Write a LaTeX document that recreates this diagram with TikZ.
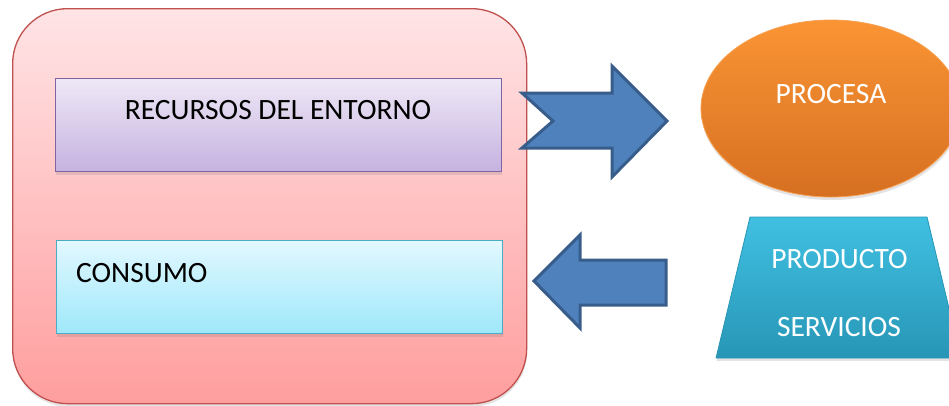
\documentclass[tikz,border=0pt]{standalone}
\usepackage{fontspec}
\setmainfont{Carlito}
\usetikzlibrary{shapes.geometric,shadows}

\definecolor{bigtop}{RGB}{255,228,230}
\definecolor{bigbot}{RGB}{255,158,158}
\definecolor{bigline}{RGB}{192,80,77}
\definecolor{purtop}{RGB}{238,232,246}
\definecolor{purbot}{RGB}{198,178,224}
\definecolor{purline}{RGB}{128,100,162}
\definecolor{cyatop}{RGB}{226,248,255}
\definecolor{cyabot}{RGB}{158,232,250}
\definecolor{cyaline}{RGB}{75,172,198}
\definecolor{arrfill}{RGB}{79,129,189}
\definecolor{arrline}{RGB}{56,93,138}
\definecolor{orgtop}{RGB}{250,148,52}
\definecolor{orgbot}{RGB}{214,112,34}
\definecolor{orgline}{RGB}{247,160,80}
\definecolor{traptop}{RGB}{64,192,226}
\definecolor{trapbot}{RGB}{40,150,182}

\begin{document}
\begin{tikzpicture}
  [x = 1pt, y = -1pt,
   lbl/.style = {font=\fontsize{29.5}{34}\selectfont, inner sep=0pt},
   softshadow/.style = {drop shadow={shadow xshift=.5pt, shadow yshift=-3pt, opacity=.22}},
   box/.style = {rectangle, line width=1.3pt, anchor=north west, softshadow},
   blockarrow/.style = {draw=arrline, fill=arrfill, line width=3pt, line join=miter}]
    \useasboundingbox (0,0) rectangle (949,405);

    % left frame
    \node (entorno) [box, draw=bigline, rounded corners=55pt, top color=bigtop, bottom color=bigbot,
      minimum width=514, minimum height=395] at (12,8) {};
    \node (recbox) [box, draw=purline, top color=purtop, bottom color=purbot,
      minimum width=446, minimum height=93] at (55,78) {};
    \node (conbox) [box, draw=cyaline, top color=cyatop, bottom color=cyabot,
      minimum width=446, minimum height=93] at (56,240) {};
    \node (rectxt) [lbl, anchor=base] at (278,119) {RECURSOS DEL ENTORNO};
    \node (contxt) [lbl, anchor=base west] at (76,282) {CONSUMO};

    % arrows
    \draw[blockarrow] (522,93) -- (612,93) -- (612,66) -- (667,121) -- (612,177)
      -- (612,148) -- (522,148) -- (553,121) -- cycle;
    \draw[blockarrow] (534,281) -- (580,235) -- (580,260) -- (666,260) -- (666,305)
      -- (580,305) -- (580,328) -- cycle;

    % right side
    \node (procesa) [ellipse, draw=orgline, line width=.8pt, top color=orgtop, bottom color=orgbot,
      minimum width=260, minimum height=177, softshadow] at (831,108.5) {};
    \node (protxt) [lbl, white, anchor=base] at (831,103) {PROCESA};

    \path[draw=trapbot, line width=.8pt, top color=traptop, bottom color=trapbot, softshadow]
      (716,358) -- (750,217) -- (927,217) -- (961,358) -- cycle;
    \node (prodtxt) [lbl, white, anchor=base] at (839.5,268) {PRODUCTO};
    \node (servtxt) [lbl, white, anchor=base] at (839,336) {SERVICIOS};
\end{tikzpicture}
\end{document}
